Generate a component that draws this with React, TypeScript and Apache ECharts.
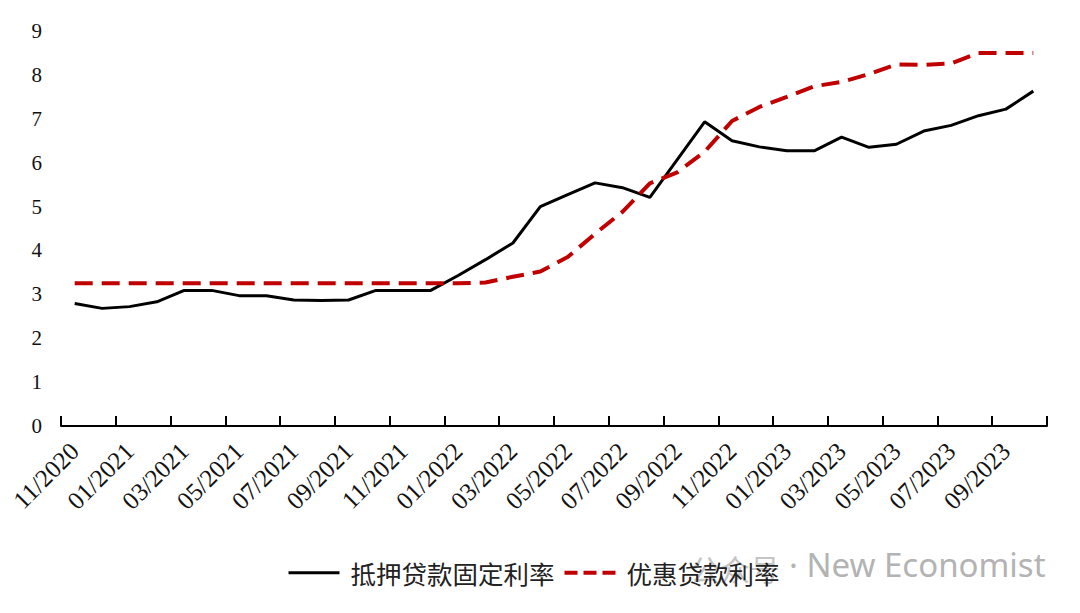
import React, { useEffect, useRef } from "react";
import * as echarts from "echarts";

const categories = [
  "11/2020", "12/2020",
  "01/2021", "02/2021", "03/2021", "04/2021", "05/2021", "06/2021",
  "07/2021", "08/2021", "09/2021", "10/2021", "11/2021", "12/2021",
  "01/2022", "02/2022", "03/2022", "04/2022", "05/2022", "06/2022",
  "07/2022", "08/2022", "09/2022", "10/2022", "11/2022", "12/2022",
  "01/2023", "02/2023", "03/2023", "04/2023", "05/2023", "06/2023",
  "07/2023", "08/2023", "09/2023", "10/2023",
];

// 抵押贷款固定利率
const mortgageFixedRate = [
  2.79, 2.68, 2.72, 2.83, 3.09, 3.09, 2.97, 2.97, 2.87, 2.86,
  2.87, 3.09, 3.09, 3.09, 3.43, 3.79, 4.17, 5.0, 5.27, 5.54,
  5.43, 5.21, 6.07, 6.93, 6.5, 6.36, 6.27, 6.27, 6.58, 6.35,
  6.42, 6.72, 6.85, 7.07, 7.22, 7.63,
];

// 优惠贷款利率
const preferentialRate = [
  3.25, 3.25, 3.25, 3.25, 3.25, 3.25, 3.25, 3.25, 3.25, 3.25,
  3.25, 3.25, 3.25, 3.25, 3.25, 3.27, 3.4, 3.52, 3.85, 4.38,
  4.88, 5.53, 5.78, 6.25, 6.95, 7.27, 7.5, 7.74, 7.84, 8.02,
  8.24, 8.23, 8.26, 8.5, 8.5, 8.5,
];

const yMin = 0;
const yMax = 9;
const yInterval = 1;

const seriesNames = ["抵押贷款固定利率", "优惠贷款利率"];

export default function App() {
  const ref = useRef<HTMLDivElement>(null);

  useEffect(() => {
    if (!ref.current) return;
    const chart = echarts.init(ref.current, undefined, { renderer: "svg" });
    chart.setOption({
      animation: false,
      backgroundColor: "#ffffff",
      grid: { left: 61, right: 33, top: 31, bottom: 187, containLabel: false },
      xAxis: {
        type: "category",
        data: categories,
        boundaryGap: true,
        axisLine: { show: true, lineStyle: { color: "#000", width: 2 } },
        axisTick: {
          show: true,
          inside: true,
          length: 10,
          interval: 1,
          alignWithLabel: false,
          lineStyle: { color: "#000", width: 2 },
        },
        axisLabel: {
          interval: 1,
          rotate: 45,
          margin: 21,
          color: "#111",
          fontFamily: "Liberation Serif",
          fontSize: 25,
        },
        splitLine: { show: false },
      },
      yAxis: {
        type: "value",
        min: yMin,
        max: yMax,
        interval: yInterval,
        axisLine: { show: false },
        axisTick: { show: false },
        splitLine: { show: false },
        axisLabel: {
          margin: 19,
          color: "#111",
          fontFamily: "Liberation Serif",
          fontSize: 21,
        },
      },
      legend: {
        left: 282,
        top: 555,
        itemWidth: 51,
        itemHeight: 14,
        itemGap: 8,
        itemStyle: { opacity: 0 },
        textStyle: {
          fontFamily: "Noto Sans CJK SC",
          fontSize: 25.5,
          color: "#222",
          padding: [0, 0, 0, 6],
        },
        data: [
          { name: seriesNames[0], lineStyle: { width: 3, color: "#000" } },
          { name: seriesNames[1], lineStyle: { width: 4, color: "#c00000", type: [13, 6] } },
        ],
      },
      series: [
        {
          name: seriesNames[0],
          type: "line",
          data: mortgageFixedRate,
          symbol: "none",
          lineStyle: { color: "#000", width: 3 },
          itemStyle: { color: "#000" },
        },
        {
          name: seriesNames[1],
          type: "line",
          data: preferentialRate,
          symbol: "none",
          lineStyle: { color: "#c00000", width: 4, type: [18, 9] },
          itemStyle: { color: "#c00000" },
        },
      ],
      graphic: [
        {
          type: "text",
          left: 690,
          top: 553,
          silent: true,
          style: {
            text: "公众号",
            fill: "rgba(140,140,140,0.5)",
            font: "30px 'Noto Sans CJK SC'",
          },
        },
        {
          type: "text",
          left: 789,
          top: 548,
          silent: true,
          style: {
            text: "· New Economist",
            fill: "#b3b3b3",
            font: "33px 'Noto Sans'",
          },
        },
      ],
    });
    return () => chart.dispose();
  }, []);

  return (
    <div
      ref={ref}
      style={{ position: "fixed", left: 0, top: 0, width: 1080, height: 613, background: "#fff" }}
    />
  );
}
